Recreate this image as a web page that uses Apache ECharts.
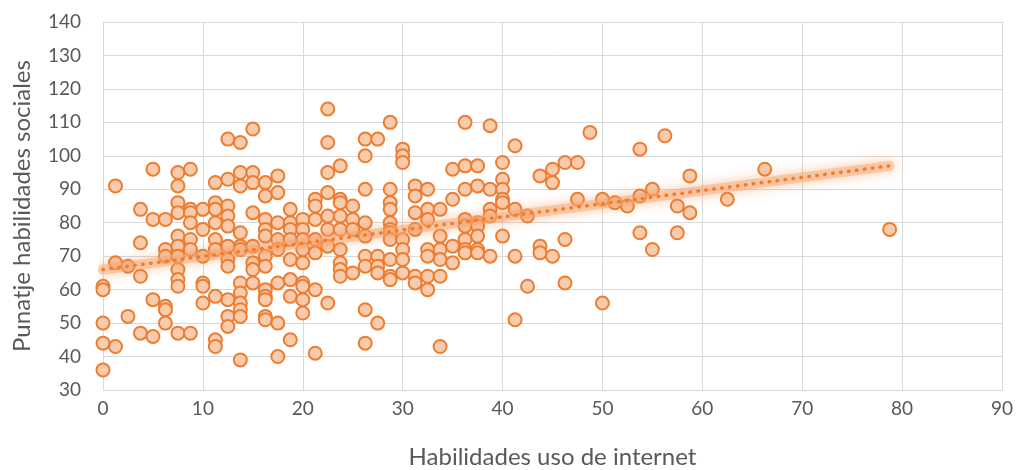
<!DOCTYPE html>
<html>
<head>
<meta charset="utf-8">
<script src="https://cdn.jsdelivr.net/npm/echarts@6/dist/echarts.min.js"></script>
<style>
  html, body { margin: 0; padding: 0; background: #fff; }
  #chart { width: 1020px; height: 470px; }
</style>
</head>
<body>
<div id="chart"></div>
<script>
// internet-use score columns (step 1.25) and the social-skills scores seen in each column
var internetSteps = [0, 1.25, 2.5, 3.75, 5, 6.25, 7.5, 8.75, 10, 11.25, 12.5, 13.75, 15, 16.25, 17.5, 18.75,
  20, 21.25, 22.5, 23.75, 25, 26.25, 27.5, 28.75, 30, 31.25, 32.5, 33.75, 35, 36.25, 37.5, 38.75,
  40, 41.25, 42.5, 43.75, 45, 46.25, 47.5, 48.75, 50, 51.25, 52.5, 53.75, 55, 56.25, 57.5, 58.75,
  62.5, 66.25, 78.75]
var socialScores = [
  [61, 60, 50, 44, 36],
  [91, 68, 43],
  [67, 52],
  [84, 74, 64, 47],
  [96, 81, 57, 46],
  [81, 72, 70, 55, 54, 50],
  [95, 91, 86, 83, 76, 73, 70, 66, 63, 61, 47],
  [96, 84, 83, 80, 75, 72, 47],
  [84, 78, 70, 62, 61, 56],
  [92, 86, 84, 80, 75, 72, 58, 45, 43],
  [105, 93, 85, 82, 79, 73, 69, 67, 57, 52, 49],
  [104, 95, 91, 77, 73, 72, 62, 59, 56, 54, 52, 39],
  [108, 95, 92, 83, 73, 68, 66, 62],
  [92, 88, 81, 78, 76, 70, 67, 60, 58, 57, 52, 51],
  [94, 89, 80, 75, 72, 62, 50, 40],
  [84, 80, 78, 75, 69, 63, 58, 45],
  [81, 78, 75, 72, 68, 62, 61, 57, 53],
  [87, 85, 81, 75, 71, 60, 41],
  [114, 104, 95, 89, 82, 78, 73, 56],
  [97, 87, 86, 82, 78, 72, 68, 66, 64],
  [85, 81, 78, 65],
  [105, 100, 90, 80, 76, 70, 67, 54, 44],
  [105, 70, 67, 65, 50],
  [110, 90, 86, 84, 80, 78, 77, 75, 69, 64, 63],
  [102, 100, 98, 75, 72, 69, 65],
  [91, 88, 83, 78, 64, 62],
  [90, 84, 81, 72, 70, 64, 60],
  [84, 76, 72, 69, 64, 43],
  [96, 87, 73, 68],
  [110, 97, 90, 81, 79, 75, 72, 71],
  [97, 91, 80, 79, 76, 72, 71],
  [109, 90, 84, 82, 70],
  [98, 93, 90, 87, 86, 76],
  [103, 84, 70, 51],
  [82, 61],
  [94, 73, 71],
  [96, 92, 70],
  [98, 75, 62],
  [98, 87],
  [107],
  [87, 56],
  [86],
  [85],
  [102, 88, 77],
  [90, 72],
  [106],
  [85, 77],
  [94, 83],
  [87],
  [96],
  [78]
]
// linear trend line end points as drawn in the picture
var trendX = [0, 78.75]
var trendY = [66, 97]

var points = []
for (var i = 0; i < internetSteps.length; i++) {
  for (var j = 0; j < socialScores[i].length; j++) {
    points.push([internetSteps[i], socialScores[i][j]])
  }
}
var trend = [[trendX[0], trendY[0]], [trendX[1], trendY[1]]]

var font = 'Lato, "Open Sans", sans-serif'
var option = {
  animation: false,
  grid: { left: 103, right: 18, top: 22, bottom: 80, containLabel: false, outerBoundsMode: 'none' },
  xAxis: {
    type: 'value',
    min: 0,
    max: 90,
    interval: 10,
    name: 'Habilidades uso de internet',
    nameLocation: 'middle',
    nameGap: 55,
    nameTextStyle: { color: '#595959', fontSize: 24, fontFamily: font },
    axisLine: { show: true, lineStyle: { color: '#d9d9d9', width: 1 } },
    axisTick: { show: false },
    axisLabel: { color: '#595959', fontSize: 19, fontFamily: font, margin: 9 },
    splitLine: { show: true, lineStyle: { color: '#d9d9d9', width: 1 } }
  },
  yAxis: {
    type: 'value',
    min: 30,
    max: 140,
    interval: 10,
    name: 'Punatje habilidades sociales',
    nameLocation: 'middle',
    nameGap: 69,
    nameRotate: 90,
    nameTextStyle: { color: '#595959', fontSize: 24, fontFamily: font },
    axisLine: { show: true, lineStyle: { color: '#d9d9d9', width: 1 } },
    axisTick: { show: false },
    axisLabel: { color: '#595959', fontSize: 19, fontFamily: font, margin: 22 },
    splitLine: { show: true, lineStyle: { color: '#d9d9d9', width: 1 } }
  },
  series: [
    {
      name: 'Puntos',
      type: 'scatter',
      data: points,
      symbol: 'circle',
      symbolSize: 13,
      itemStyle: { color: '#f8cbad', borderColor: '#ed7d31', borderWidth: 2, opacity: 1 },
      z: 2
    },
    {
      name: 'glow',
      type: 'line',
      data: trend,
      symbol: 'none',
      silent: true,
      lineStyle: { color: 'rgba(247, 170, 115, 0.5)', width: 10, cap: 'round', shadowBlur: 12, shadowColor: 'rgba(237, 125, 49, 0.85)' },
      z: 3
    },
    {
      name: 'Lineal',
      type: 'line',
      data: trend,
      symbol: 'none',
      silent: true,
      lineStyle: { color: '#ed7d31', width: 3.5, type: [0.5, 7.5], cap: 'round' },
      z: 4
    }
  ]
}

var chart = echarts.init(document.getElementById('chart'))
chart.setOption(option)
</script>
</body>
</html>
